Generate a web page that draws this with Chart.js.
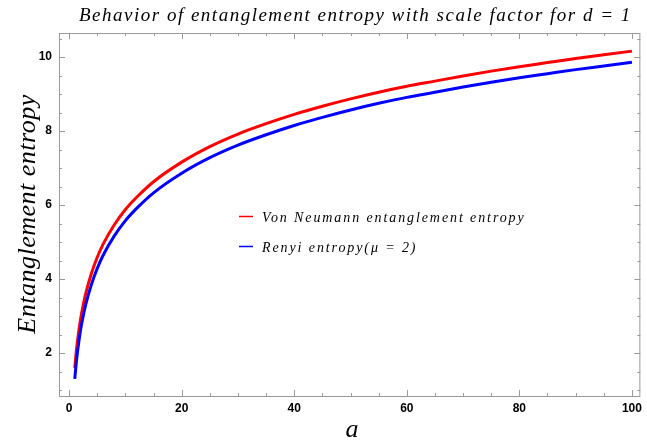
<!DOCTYPE html>
<html>
<head>
<meta charset="utf-8">
<script src="https://cdn.jsdelivr.net/npm/chart.js@4/dist/chart.umd.min.js"></script>
<style>
  html, body { margin: 0; padding: 0; background: #ffffff; }
  #wrap { width: 647px; height: 447px; }
</style>
</head>
<body>
<div id="wrap"><canvas id="c" width="647" height="447"></canvas></div>
<script>
// Scale factor samples
const scaleFactor = [1, 1.25, 1.5, 2, 2.5, 3, 4, 5, 6, 8, 10, 12, 15, 20, 25, 30, 35, 40, 45, 50, 55, 60, 65, 70, 75, 80, 85, 90, 95, 100];
// Von Neumann entanglement entropy
const vonNeumann = [1.60, 2.01, 2.35, 2.89, 3.30, 3.64, 4.17, 4.59, 4.93, 5.46, 5.88, 6.21, 6.63, 7.16, 7.58, 7.92, 8.20, 8.45, 8.67, 8.87, 9.05, 9.21, 9.35, 9.49, 9.62, 9.74, 9.85, 9.96, 10.06, 10.16];
// Renyi entropy, mu = 2
const renyi = [1.30, 1.71, 2.05, 2.59, 3.00, 3.34, 3.87, 4.29, 4.63, 5.16, 5.58, 5.91, 6.33, 6.86, 7.28, 7.62, 7.90, 8.15, 8.37, 8.57, 8.75, 8.91, 9.05, 9.19, 9.32, 9.44, 9.55, 9.66, 9.76, 9.86];

const xTicks = [0, 20, 40, 60, 80, 100];
const yTicks = [2, 4, 6, 8, 10];

const titleText = 'Behavior of entanglement entropy with scale factor for d = 1';
const xTitle = 'a';
const yTitle = 'Entanglement entropy';
const seriesNames = ['Von Neumann entanglement entropy', 'Renyi entropy(\u03bc = 2)'];
const seriesColors = ['#ff0000', '#0000ff'];

const toPoints = ys => scaleFactor.map((x, i) => ({ x: x, y: ys[i] }));

const serif = '"Liberation Serif", "DejaVu Serif", serif';
const frameColor = '#9a9a9a';

// Frame with inward major/minor ticks on all four sides
const framePlugin = {
  id: 'frame',
  afterDatasetsDraw(chart) {
    const { ctx, chartArea: a, scales } = chart;
    const xs = scales.x, ys = scales.y;
    ctx.save();
    ctx.strokeStyle = frameColor;
    ctx.lineWidth = 1;
    ctx.strokeRect(a.left + 0.5, a.top + 0.5, a.right - a.left - 1, a.bottom - a.top);
    ctx.beginPath();
    for (let v = 0; v <= 100; v += 5) {
      const px = Math.round(xs.getPixelForValue(v)) + 0.5;
      const len = v % 20 === 0 ? 6 : 3;
      ctx.moveTo(px, a.bottom); ctx.lineTo(px, a.bottom - len);
      ctx.moveTo(px, a.top); ctx.lineTo(px, a.top + len);
    }
    for (let v = 1; v <= 10.5; v += 0.5) {
      const py = Math.round(ys.getPixelForValue(v)) + 0.5;
      const len = v % 2 === 0 ? 6 : 3;
      ctx.moveTo(a.left, py); ctx.lineTo(a.left + len, py);
      ctx.moveTo(a.right, py); ctx.lineTo(a.right - len, py);
    }
    ctx.stroke();
    ctx.restore();
  }
};

// Title, axis titles and the in-plot legend
const textPlugin = {
  id: 'texts',
  afterDraw(chart) {
    const { ctx } = chart;
    ctx.save();
    ctx.fillStyle = '#000';
    ctx.textBaseline = 'alphabetic';

    ctx.textAlign = 'left';
    ctx.font = 'italic 19px ' + serif;
    ctx.letterSpacing = '1.5px';
    ctx.fillText(titleText, 79, 21);

    ctx.textAlign = 'center';
    ctx.letterSpacing = '0px';
    ctx.font = 'italic 26px ' + serif;
    ctx.fillText(xTitle, 352, 437);

    ctx.save();
    ctx.translate(35, 214);
    ctx.rotate(-Math.PI / 2);
    ctx.font = 'italic 26px ' + serif;
    ctx.letterSpacing = '0.5px';
    ctx.fillText(yTitle, 0, 0);
    ctx.restore();

    ctx.textAlign = 'left';
    ctx.font = 'italic 14px ' + serif;
    ctx.letterSpacing = '1.9px';
    const rows = [216, 246];
    rows.forEach((y, i) => {
      ctx.strokeStyle = seriesColors[i];
      ctx.lineWidth = 1.5;
      ctx.beginPath();
      ctx.moveTo(239, y + 0.5); ctx.lineTo(253, y + 0.5);
      ctx.stroke();
      ctx.fillText(seriesNames[i], 262, y + 6);
    });
    ctx.restore();
  }
};

new Chart(document.getElementById('c'), {
  type: 'line',
  data: {
    datasets: [
      { label: seriesNames[0], data: toPoints(vonNeumann), borderColor: seriesColors[0], order: 1 },
      { label: seriesNames[1], data: toPoints(renyi), borderColor: seriesColors[1], order: 0 }
    ]
  },
  options: {
    responsive: false,
    animation: false,
    devicePixelRatio: 1,
    layout: { padding: { top: 33, right: 5, left: 0, bottom: 0 } },
    elements: {
      point: { radius: 0 },
      line: { borderWidth: 3, cubicInterpolationMode: 'monotone', fill: false }
    },
    plugins: { legend: { display: false }, tooltip: { enabled: false }, title: { display: false } },
    scales: {
      x: {
        type: 'linear',
        min: -1.8,
        max: 101.5,
        afterFit(s) { s.height = 51; },
        afterBuildTicks(s) { s.ticks = xTicks.map(v => ({ value: v })); },
        grid: { display: false, drawTicks: false },
        border: { display: false },
        ticks: { padding: 5, color: '#000', font: { family: '"Liberation Sans", Arial, sans-serif', weight: 'bold', size: 12 }, maxRotation: 0 }
      },
      y: {
        type: 'linear',
        min: 0.84,
        max: 10.65,
        afterFit(s) { s.width = 59; },
        afterBuildTicks(s) { s.ticks = yTicks.map(v => ({ value: v })); },
        grid: { display: false, drawTicks: false },
        border: { display: false },
        ticks: { padding: 7, color: '#000', font: { family: '"Liberation Sans", Arial, sans-serif', weight: 'bold', size: 12 } }
      }
    }
  },
  plugins: [framePlugin, textPlugin]
});
</script>
</body>
</html>
